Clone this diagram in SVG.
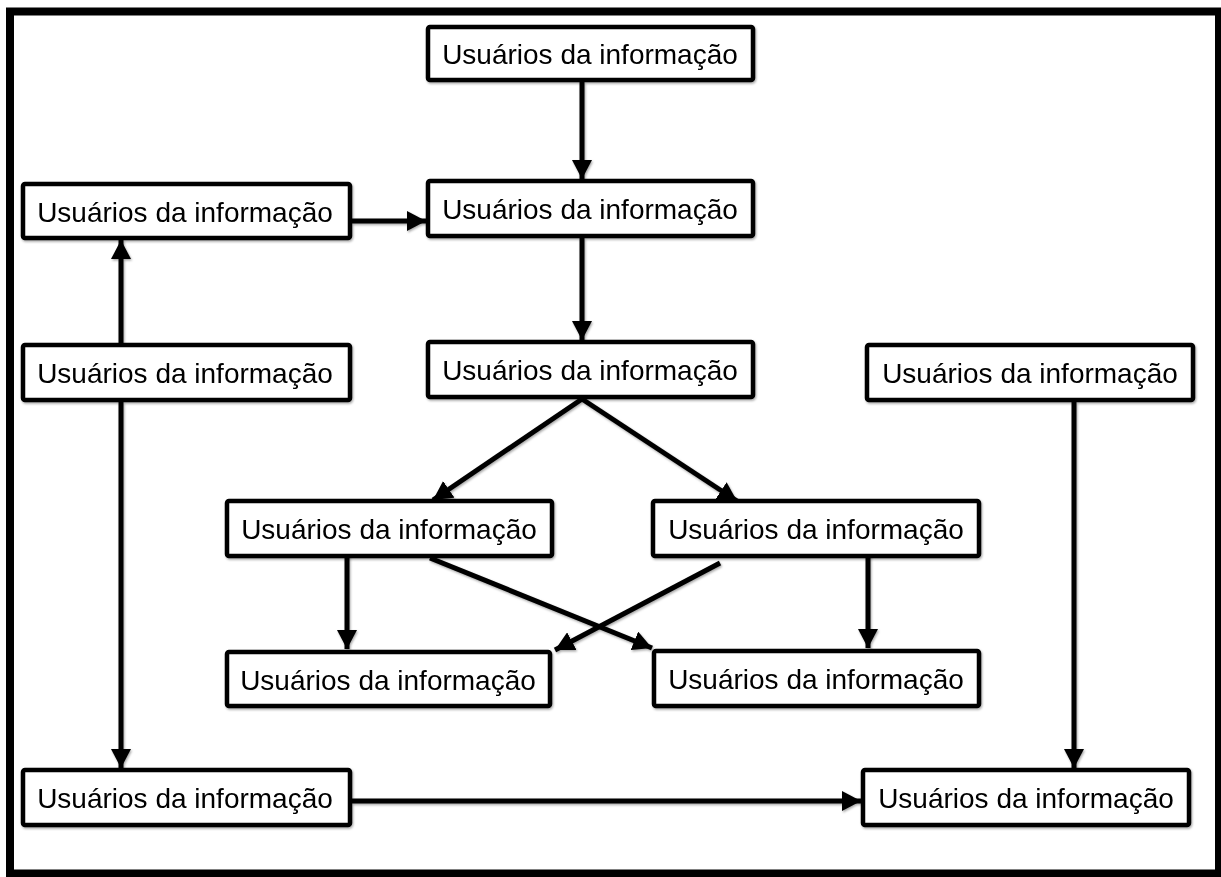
<svg xmlns="http://www.w3.org/2000/svg" width="1221" height="877" viewBox="0 0 1221 877">
<style>
.box{fill:#fff;stroke:#000;stroke-width:4.5}
.lbl{font-family:"Liberation Sans",Arial,sans-serif;font-size:28px;fill:#000;text-anchor:middle}
.edge{stroke:#000;stroke-width:5;fill:none;marker-end:url(#arr)}
</style>
<defs>
<marker id="arr" markerUnits="userSpaceOnUse" markerWidth="20" markerHeight="20" refX="19" refY="10" orient="auto">
<path d="M0,0 L19,10 L0,20 z" fill="#000"/>
</marker>
<filter id="sh" x="-5%" y="-5%" width="110%" height="115%">
<feDropShadow dx="1" dy="1.5" stdDeviation="1.2" flood-color="#000" flood-opacity="0.35"/>
</filter>
</defs>
<rect x="10" y="11.5" width="1209" height="862" fill="#fff" stroke="#000" stroke-width="8"/>
<g id="connectors" filter="url(#sh)">
<line class="edge" x1="582" y1="82" x2="582" y2="179"/>
<line class="edge" x1="352" y1="221" x2="426" y2="221"/>
<line class="edge" x1="121" y1="343" x2="121" y2="240"/>
<line class="edge" x1="582" y1="238" x2="582" y2="340"/>
<line class="edge" x1="582" y1="399" x2="433" y2="500"/>
<line class="edge" x1="582" y1="399" x2="737" y2="501"/>
<line class="edge" x1="347" y1="555" x2="347" y2="649"/>
<line class="edge" x1="430" y1="558" x2="652" y2="648"/>
<line class="edge" x1="720" y1="563" x2="555" y2="650"/>
<line class="edge" x1="868" y1="554" x2="868" y2="648"/>
<line class="edge" x1="121" y1="402" x2="121" y2="768"/>
<line class="edge" x1="1074" y1="402" x2="1074" y2="768"/>
<line class="edge" x1="352" y1="801" x2="861" y2="801"/>
</g>
<g id="n1" filter="url(#sh)"><rect class="box" x="428" y="27" width="325" height="53" rx="2"/><text class="lbl" x="590" y="64">Usuários da informação</text></g>
<g id="n2" filter="url(#sh)"><rect class="box" x="428" y="181" width="325" height="55" rx="2"/><text class="lbl" x="590" y="219">Usuários da informação</text></g>
<g id="n3" filter="url(#sh)"><rect class="box" x="428" y="342" width="325" height="55" rx="2"/><text class="lbl" x="590" y="380">Usuários da informação</text></g>
<g id="l1" filter="url(#sh)"><rect class="box" x="23" y="184" width="327" height="54" rx="2"/><text class="lbl" x="185" y="221.5">Usuários da informação</text></g>
<g id="l2" filter="url(#sh)"><rect class="box" x="23" y="345" width="327" height="55" rx="2"/><text class="lbl" x="185" y="383">Usuários da informação</text></g>
<g id="l3" filter="url(#sh)"><rect class="box" x="23" y="770" width="327" height="55" rx="2"/><text class="lbl" x="185" y="808">Usuários da informação</text></g>
<g id="r1" filter="url(#sh)"><rect class="box" x="867" y="345" width="326" height="55" rx="2"/><text class="lbl" x="1030" y="383">Usuários da informação</text></g>
<g id="r2" filter="url(#sh)"><rect class="box" x="863" y="770" width="326" height="55" rx="2"/><text class="lbl" x="1026" y="808">Usuários da informação</text></g>
<g id="ml1" filter="url(#sh)"><rect class="box" x="227" y="501" width="325" height="55" rx="2"/><text class="lbl" x="389" y="539">Usuários da informação</text></g>
<g id="ml2" filter="url(#sh)"><rect class="box" x="227" y="652" width="323" height="54" rx="2"/><text class="lbl" x="388" y="689.5">Usuários da informação</text></g>
<g id="mr1" filter="url(#sh)"><rect class="box" x="653" y="501" width="326" height="55" rx="2"/><text class="lbl" x="816" y="539">Usuários da informação</text></g>
<g id="mr2" filter="url(#sh)"><rect class="box" x="654" y="651" width="325" height="55" rx="2"/><text class="lbl" x="816" y="689">Usuários da informação</text></g>
</svg>
